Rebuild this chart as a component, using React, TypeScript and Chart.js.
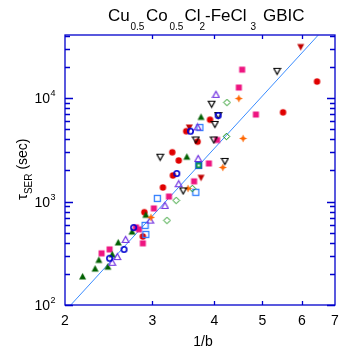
import React, { useEffect, useRef } from "react";
import { Chart, registerables } from "chart.js";
Chart.register(...registerables);

// ---- tick values ----
const xTickLabels = [2, 3, 4, 5, 6, 7];
const xInnerTicks = [3, 4, 5, 6];
const yMajorTicks = [100, 1000, 10000];
const yExponents = ["2", "3", "4"];
const yMinorTicks = [200, 300, 400, 500, 600, 700, 800, 900, 2000, 3000, 4000, 5000, 6000, 7000, 8000, 9000, 20000, 30000, 40000];

// ---- series ----
const redCircleX = [6.44, 5.5, 3.92, 3.51, 3.7, 3.29, 3.39, 3.3, 3.15, 2.89, 2.87];
const redCircleY = [14500, 7300, 6200, 4800, 3800, 3000, 2500, 1790, 1370, 790, 460];

const darkRedTriX = [5.97, 3.56, 3.76];
const darkRedTriY = [31300, 5210, 1700];

const blueRingX = [3.58, 4.07, 3.36, 2.75, 2.63, 2.46];
const blueRingY = [4800, 6800, 1870, 561, 345, 283];

const pinkSquareX = [4.55, 4.48, 4.85, 4.05, 3.9, 3.64, 3.24, 3.02, 2.78, 2.82, 2.87, 2.46, 2.37];
const pinkSquareY = [18900, 12700, 6960, 3950, 2340, 1570, 1120, 860, 563, 539, 395, 345, 316];

const blueSquareX = [3.74, 3.67, 3.07, 2.9, 2.91];
const blueSquareY = [5210, 1230, 1074, 589, 482];

const greenTriX = [3.76, 3.52, 2.91, 2.73, 2.56, 2.49, 2.34, 2.44, 2.3, 2.17];
const greenTriY = [6600, 2720, 746, 513, 403, 309, 273, 235, 225, 189];

const purpleTriX = [4.03, 3.7, 3.71, 3.39, 3.18, 2.97, 2.65, 2.55, 2.49];
const purpleTriY = [10900, 5280, 2615, 1490, 919, 663, 431, 294, 259];

const blackTriX = [5.35, 3.95, 4.07, 4.01, 3.67, 3.99, 3.11, 4.2, 3.46];
const blackTriY = [18200, 8750, 6800, 5580, 3950, 3950, 2690, 2450, 1270];

const greenDiamondX = [4.24, 4.23, 3.61, 3.35, 3.21];
const greenDiamondY = [9100, 4270, 1340, 1027, 658];

const orangeStarX = [4.48, 4.57, 4.16, 3.54, 2.98];
const orangeStarY = [9930, 4080, 2140, 1340, 704];

const checkerSquareX = [3.72];
const checkerSquareY = [2240];

const fitLineX = [2.054, 6.47];
const fitLineY = [100, 40600];

const FONT = '"Liberation Sans", Arial, Helvetica, sans-serif';
const AXIS_COLOR = "#0000cc";

function pts(xs: number[], ys: number[]) {
  return xs.map((x, i) => ({ x, y: ys[i] }));
}

type Kind =
  | "circleFilled"
  | "triUpFilled"
  | "triDownFilled"
  | "ring"
  | "squareFilled"
  | "squareOpen"
  | "triUpOpen"
  | "triDownOpen"
  | "diamondOpen"
  | "star"
  | "checker";

function makeMarker(kind: Kind, color: string, color2?: string): HTMLCanvasElement {
  const s = 9;
  const c = document.createElement("canvas");
  c.width = s;
  c.height = s;
  const g = c.getContext("2d")!;
  g.fillStyle = color;
  g.strokeStyle = color;
  g.lineWidth = 1.2;
  g.beginPath();
  switch (kind) {
    case "circleFilled":
      g.arc(4.5, 4.5, 3.2, 0, Math.PI * 2);
      g.fill();
      break;
    case "triUpFilled":
      g.moveTo(4.5, 1);
      g.lineTo(8, 7.5);
      g.lineTo(1, 7.5);
      g.closePath();
      g.fill();
      break;
    case "triDownFilled":
      g.moveTo(1, 1.5);
      g.lineTo(8, 1.5);
      g.lineTo(4.5, 8);
      g.closePath();
      g.fill();
      break;
    case "ring":
      g.lineWidth = 1.6;
      g.arc(4.5, 4.5, 2.7, 0, Math.PI * 2);
      g.stroke();
      break;
    case "squareFilled":
      g.fillRect(1.5, 1.5, 6, 6);
      break;
    case "squareOpen":
      g.lineWidth = 1.3;
      g.strokeRect(1.5, 1.5, 6, 6);
      break;
    case "triUpOpen":
      g.moveTo(4.5, 1.5);
      g.lineTo(7.8, 7.5);
      g.lineTo(1.2, 7.5);
      g.closePath();
      g.stroke();
      break;
    case "triDownOpen":
      g.moveTo(1.2, 1.5);
      g.lineTo(7.8, 1.5);
      g.lineTo(4.5, 7.5);
      g.closePath();
      g.stroke();
      break;
    case "diamondOpen":
      g.lineWidth = 1;
      g.moveTo(4.5, 1.2);
      g.lineTo(7.8, 4.5);
      g.lineTo(4.5, 7.8);
      g.lineTo(1.2, 4.5);
      g.closePath();
      g.stroke();
      break;
    case "star":
      g.moveTo(4.5, 0.5);
      g.lineTo(5.7, 3.3);
      g.lineTo(8.5, 4.5);
      g.lineTo(5.7, 5.7);
      g.lineTo(4.5, 8.5);
      g.lineTo(3.3, 5.7);
      g.lineTo(0.5, 4.5);
      g.lineTo(3.3, 3.3);
      g.closePath();
      g.fill();
      break;
    case "checker":
      g.fillStyle = color2 || "#10a040";
      g.fillRect(1.5, 1.5, 6, 6);
      g.fillStyle = "#ffffff";
      g.fillRect(3.5, 3.5, 2, 2);
      g.lineWidth = 1.2;
      g.strokeRect(1.5, 1.5, 6, 6);
      break;
  }
  return c;
}

function drawParts(
  ctx: CanvasRenderingContext2D,
  parts: { t: string; size: number; dy: number; x?: number }[],
  x: number,
  y: number
) {
  let cx = x;
  for (const p of parts) {
    ctx.font = `${p.size}px ${FONT}`;
    const px = p.x !== undefined ? p.x : cx;
    ctx.fillText(p.t, px, y + p.dy);
    cx = px + ctx.measureText(p.t).width;
  }
}

const framePlugin = {
  id: "framePlugin",
  afterDraw(chart: any) {
    const ctx: CanvasRenderingContext2D = chart.ctx;
    const { left, right, top, bottom } = chart.chartArea;
    const xs = chart.scales.x;
    const ys = chart.scales.y;
    ctx.save();
    ctx.strokeStyle = AXIS_COLOR;
    ctx.lineWidth = 1.3;
    ctx.strokeRect(left, top, right - left, bottom - top);
    ctx.beginPath();
    for (const v of xInnerTicks) {
      const px = Math.round(xs.getPixelForValue(v)) + 0.5;
      ctx.moveTo(px, bottom);
      ctx.lineTo(px, bottom - 4);
      ctx.moveTo(px, top);
      ctx.lineTo(px, top + 4);
    }
    for (const v of yMajorTicks) {
      const py = Math.round(ys.getPixelForValue(v)) + 0.5;
      ctx.moveTo(left, py);
      ctx.lineTo(left + 8, py);
      ctx.moveTo(right, py);
      ctx.lineTo(right - 8, py);
    }
    for (const v of yMinorTicks) {
      const py = Math.round(ys.getPixelForValue(v)) + 0.5;
      ctx.moveTo(left, py);
      ctx.lineTo(left + 5, py);
      ctx.moveTo(right, py);
      ctx.lineTo(right - 5, py);
    }
    ctx.stroke();

    ctx.fillStyle = "#000";
    ctx.textBaseline = "alphabetic";
    // x tick labels
    ctx.font = `14px ${FONT}`;
    ctx.textAlign = "center";
    for (const v of xTickLabels) {
      const px = xs.getPixelForValue(v);
      ctx.fillText(String(v), px, bottom + 20);
    }
    // y tick labels
    ctx.textAlign = "left";
    yMajorTicks.forEach((v, i) => {
      const py = ys.getPixelForValue(v);
      ctx.font = `14px ${FONT}`;
      const w1 = ctx.measureText("10").width;
      ctx.font = `9px ${FONT}`;
      const w2 = ctx.measureText(yExponents[i]).width;
      const x0 = left - 10 - w1 - w2;
      ctx.font = `14px ${FONT}`;
      ctx.fillText("10", x0, py + 5);
      ctx.font = `9px ${FONT}`;
      ctx.fillText(yExponents[i], x0 + w1 + 0.5, py - 2);
    });
    // x axis title
    ctx.font = `14px ${FONT}`;
    ctx.textAlign = "center";
    ctx.fillText("1/b", (left + right) / 2 + 3, bottom + 41);

    // chart title
    ctx.textAlign = "left";
    drawParts(
      ctx,
      [
        { t: "Cu", size: 17, dy: 0, x: 108 },
        { t: "0.5", size: 10, dy: 9, x: 130.5 },
        { t: "Co", size: 17, dy: 0, x: 146 },
        { t: "0.5", size: 10, dy: 9, x: 169.5 },
        { t: "Cl", size: 17, dy: 0, x: 184.5 },
        { t: "2", size: 10, dy: 9, x: 199.5 },
        { t: "-FeCl", size: 17, dy: 0, x: 205 },
        { t: "3", size: 10, dy: 9, x: 250.5 },
        { t: "GBIC", size: 17, dy: 0, x: 263 },
      ],
      108,
      21
    );

    // y axis title (rotated)
    ctx.save();
    ctx.translate(27, 200);
    ctx.rotate(-Math.PI / 2);
    ctx.textAlign = "left";
    drawParts(
      ctx,
      [
        { t: "τ", size: 15, dy: 0 },
        { t: "SER", size: 10, dy: 5 },
        { t: " (sec)", size: 14, dy: 0 },
      ],
      0,
      0
    );
    ctx.restore();
    ctx.restore();
  },
};

export default function App() {
  const ref = useRef<HTMLCanvasElement | null>(null);
  useEffect(() => {
    if (!ref.current) return;
    const mk = (data: any, style: HTMLCanvasElement) => ({
      data,
      pointStyle: style,
      pointRadius: 4,
      showLine: false,
    });
    const chart = new Chart(ref.current, {
      type: "scatter",
      data: {
        datasets: [
          mk(pts(checkerSquareX, checkerSquareY), makeMarker("checker", "#1060c0", "#10a040")),
          mk(pts(blueRingX, blueRingY), makeMarker("ring", "#0000d0")),
          mk(pts(blackTriX, blackTriY), makeMarker("triDownOpen", "#000000")),
          mk(pts(orangeStarX, orangeStarY), makeMarker("star", "#ff6600")),
          mk(pts(greenDiamondX, greenDiamondY), makeMarker("diamondOpen", "#109010")),
          mk(pts(purpleTriX, purpleTriY), makeMarker("triUpOpen", "#7030e0")),
          mk(pts(blueSquareX, blueSquareY), makeMarker("squareOpen", "#2e7dff")),
          mk(pts(darkRedTriX, darkRedTriY), makeMarker("triDownFilled", "#c00000")),
          mk(pts(greenTriX, greenTriY), makeMarker("triUpFilled", "#006000")),
          mk(pts(pinkSquareX, pinkSquareY), makeMarker("squareFilled", "#ee1580")),
          mk(pts(redCircleX, redCircleY), makeMarker("circleFilled", "#e00000")),
          {
            data: pts(fitLineX, fitLineY),
            showLine: true,
            borderColor: "#3a8cff",
            borderWidth: 1,
            pointRadius: 0,
            fill: false,
          },
        ] as any,
      },
      options: {
        animation: false,
        responsive: false,
        devicePixelRatio: 1,
        layout: { padding: { left: 65, right: 11, top: 35, bottom: 51 } },
        plugins: {
          legend: { display: false },
          tooltip: { enabled: false },
        },
        scales: {
          x: { type: "logarithmic", min: 2, max: 7, display: false },
          y: { type: "logarithmic", min: 100, max: 40900, display: false },
        },
      },
      plugins: [framePlugin],
    });
    return () => chart.destroy();
  }, []);
  return (
    <div style={{ position: "fixed", left: 0, top: 0, width: 346, height: 356, background: "#fff" }}>
      <canvas ref={ref} width={346} height={356} style={{ width: 346, height: 356, display: "block" }} />
    </div>
  );
}
